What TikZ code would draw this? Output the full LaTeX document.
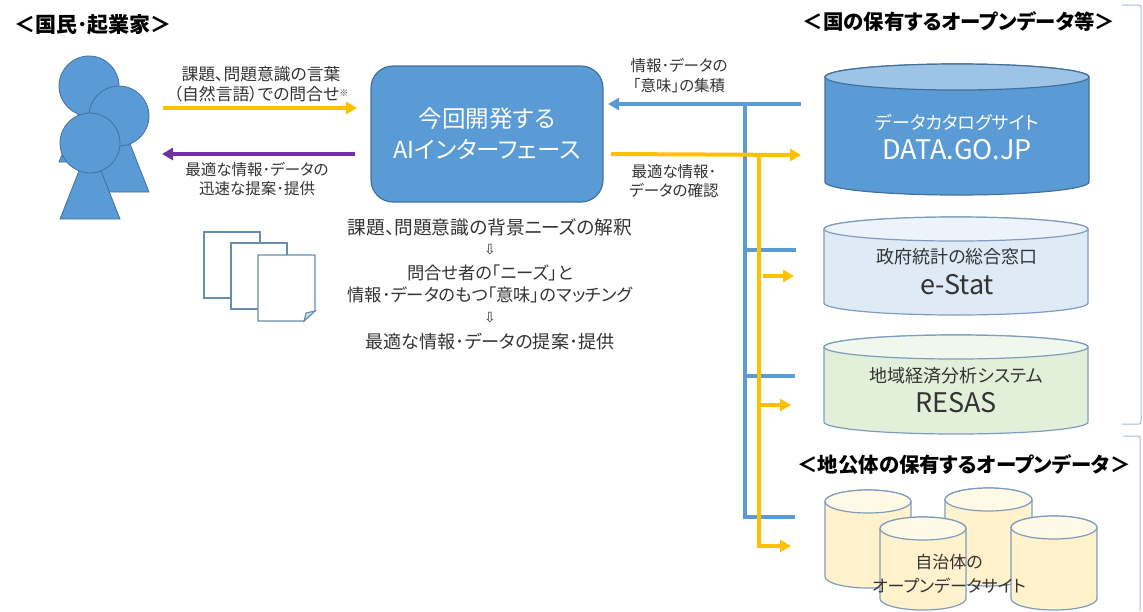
\documentclass[tikz,border=0pt]{standalone}
\usepackage{fontspec}
\setmainfont[RawFeature={+palt}]{Noto Sans CJK JP}
\newfontfamily\symfont{DejaVu Sans}
\usetikzlibrary{arrows.meta}
\definecolor{mainblue}{HTML}{5B9BD5}
\definecolor{edgeblue}{HTML}{41719C}
\definecolor{paleedge}{HTML}{7E9DBE}
\definecolor{yellowline}{HTML}{FFC000}
\definecolor{purpleline}{HTML}{7030A0}
\definecolor{graytext}{HTML}{333333}
\definecolor{statbody}{HTML}{DEEAF6}
\definecolor{stattop}{HTML}{EDF3FA}
\definecolor{resasbody}{HTML}{E2F0D9}
\definecolor{resastop}{HTML}{F0F7EC}
\definecolor{citybody}{HTML}{FFF2CC}
\definecolor{citytop}{HTML}{FFF9E6}
\definecolor{catalogtop}{HTML}{9DC3E6}
% left, top, width, height, end depth, edge, body, top colour
\newcommand{\dbshape}[8]{
    \filldraw[draw=#6, fill=#7, line width=1.2pt] (#1,#2+#5) -- (#1,#2+#4-#5)
        arc[start angle=180, end angle=0, x radius=#3/2, y radius=#5]
        -- (#1+#3,#2+#5) arc[start angle=0, end angle=-180, x radius=#3/2, y radius=#5] -- cycle;
    \filldraw[draw=#6, fill=#8, line width=1.2pt] (#1+#3/2,#2+#5) ellipse [x radius=#3/2, y radius=#5];
}
\begin{document}
\begin{tikzpicture}[x=1pt,y=-1pt,
    person/.style = {draw=edgeblue, fill=mainblue, line width=0.8pt},
    head/.style = {person, circle, minimum size=60pt, inner sep=0pt},
    paper/.style = {draw=edgeblue!80, fill=white, line width=1.1pt},
    heading/.style = {font=\fontsize{20.4}{23}\selectfont\bfseries},
    note/.style = {text=graytext, align=center, font=\fontsize{15.5}{19.5}\selectfont},
    midtext/.style = {text=graytext, font=\fontsize{17.8}{22}\selectfont},
    dbtitle/.style = {text=graytext, font=\fontsize{18}{22}\selectfont},
    dbname/.style = {text=graytext, font=\fontsize{27}{30}\selectfont},
    yellowarrow/.style = {yellowline, line width=4pt, -{Triangle[length=11pt,width=12pt]}},
    blueline/.style = {mainblue, line width=4pt},
    bracket/.style = {draw=paleedge!70, line width=1pt, rounded corners=2pt}]
    \useasboundingbox (0,0) rectangle (1143,611);

    % people
    \draw[person] (59,162) -- (89,87) -- (119,162) -- cycle;
    \node[head] (head1) at (89,86) {};
    \draw[person] (89,192) -- (119,116) -- (149,192) -- cycle;
    \node[head] (head2) at (119,116) {};
    \draw[person] (60,219) -- (90,143) -- (120,219) -- cycle;
    \node[head] (head3) at (90,143) {};
    \node[heading, font=\fontsize{21}{23}\selectfont\bfseries] (citizen) at (93,25) {＜国民･起業家＞};

    % papers
    \node[paper, minimum width=56pt, minimum height=66pt, inner sep=0pt] (paper1) at (232,265) {};
    \node[paper, minimum width=56pt, minimum height=66pt, inner sep=0pt] (paper2) at (259,276) {};
    \draw[paper] (258,255) -- (315,255) -- (315,311) -- (304,321) -- (258,321) -- cycle;
    \draw[paper, fill=edgeblue!25] (315,311) -- (306,313) -- (304,321) -- cycle;

    % centre box
    \node[draw=edgeblue, fill=mainblue, line width=1.2pt, rounded corners=22pt, minimum width=232pt, minimum height=136pt, align=center, text=white, font=\fontsize{23.5}{31}\selectfont] (ai) at (487,134) {今回開発する\\AIインターフェース};

    % left arrows
    \coordinate (askstart) at (163,108);
    \coordinate (askend) at (357,108);
    \coordinate (answerstart) at (355,154);
    \coordinate (answerend) at (162,154);
    \draw[yellowarrow] (askstart) -- (askend);
    \draw[purpleline, line width=4pt, -{Triangle[length=11pt,width=12pt]}] (answerstart) -- (answerend);
    \node[note, font=\fontsize{16.8}{19.5}\selectfont] (asktext) at (261,84) {課題、問題意識の言葉\\（自然言語）での問合せ\raisebox{4pt}{\fontsize{9}{9}\selectfont ※}};
    \node[note] (answertext) at (257,179) {最適な情報･データの\\迅速な提案･提供};

    % text below the box
    \node[midtext, font=\fontsize{18.7}{22}\selectfont] (step1) at (490,227) {課題、問題意識の背景ニーズの解釈};
    \node[text=graytext, font=\symfont\fontsize{14}{16}\selectfont] (down1) at (490,250) {⇩};
    \node[midtext, align=center, font=\fontsize{17.3}{22}\selectfont] (step2) at (490,284) {問合せ者の「ニーズ」と\\情報･データのもつ「意味」のマッチング};
    \node[text=graytext, font=\symfont\fontsize{14}{16}\selectfont] (down2) at (490,318) {⇩};
    \node[midtext, font=\fontsize{18.1}{22}\selectfont] (step3) at (490,342) {最適な情報･データの提案･提供};

    % national data
    \node[heading] (national) at (959,22) {＜国の保有するオープンデータ等＞};
    \dbshape{825}{64}{264}{131}{13}{edgeblue}{mainblue}{catalogtop}
    \node[text=white, font=\fontsize{18}{22}\selectfont] (catalogtitle) at (957,122) {データカタログサイト};
    \node[text=white, font=\fontsize{27}{30}\selectfont] (catalogname) at (957,150) {DATA.GO.JP};
    \dbshape{824}{217}{264}{98}{12}{paleedge}{statbody}{stattop}
    \node[dbtitle] (estattitle) at (957,257) {政府統計の総合窓口};
    \node[dbname] (estatname) at (957,285) {e-Stat};
    \dbshape{824}{335}{264}{99}{12}{paleedge}{resasbody}{resastop}
    \node[dbtitle] (resastitle) at (956,376) {地域経済分析システム};
    \node[dbname] (resasname) at (956,403) {RESAS};

    % local data
    \node[heading] (local) at (964,465) {＜地公体の保有するオープンデータ＞};
    \dbshape{825}{490}{86}{98}{11.5}{paleedge}{citybody}{citytop}
    \dbshape{945}{488}{87}{98}{11.5}{paleedge}{citybody}{citytop}
    \dbshape{880}{517}{86}{93}{11.5}{paleedge}{citybody}{citytop}
    \dbshape{1011}{516}{86}{94}{11.5}{paleedge}{citybody}{citytop}
    \node[text=graytext, align=center, font=\fontsize{17}{24}\selectfont] (citytext) at (949,574) {自治体の\\オープンデータサイト};

    % blue lines
    \coordinate (bluestart) at (801,104);
    \coordinate (blueend) at (608,104);
    \coordinate (bluetop) at (745,104);
    \coordinate (bluebottom) at (745,517);
    \coordinate (bluecity) at (795,517);
    \coordinate (bluestat) at (796,250);
    \coordinate (blueresas) at (795,376);
    \draw[blueline, -{Triangle[length=11pt,width=12pt]}] (bluestart) -- (blueend);
    \draw[blueline] (bluetop) -- (bluebottom) -- (bluecity);
    \draw[blueline] (745,250) -- (bluestat);
    \draw[blueline] (745,376) -- (blueresas);

    % yellow lines
    \coordinate (checkstart) at (611,154);
    \coordinate (checkend) at (801,155);
    \coordinate (yellowtop) at (759,155);
    \coordinate (yellowbottom) at (759,546);
    \coordinate (yellowcity) at (791,546);
    \draw[yellowarrow] (checkstart) -- (checkend);
    \draw[yellowarrow] (yellowtop) -- (yellowbottom) -- (yellowcity);
    \draw[yellowarrow, line width=3.5pt] (763,276) -- (794,276);
    \draw[yellowarrow, line width=3.5pt] (759,405) -- (791,405);
    \node[note] (meaningtext) at (679,75.5) {情報･データの\\「意味」の集積};
    \node[note] (checktext) at (674,181) {最適な情報･\\データの確認};

    % brackets
    \coordinate (bracketa) at (1122,5);
    \coordinate (bracketb) at (1141,5);
    \coordinate (bracketc) at (1141,424);
    \coordinate (bracketd) at (1122,424);
    \coordinate (brackete) at (1123,436);
    \coordinate (bracketf) at (1140,436);
    \coordinate (bracketg) at (1140,611);
    \draw[bracket] (bracketa) -- (bracketb) -- (bracketc) -- (bracketd);
    \draw[bracket] (brackete) -- (bracketf) -- (bracketg);
\end{tikzpicture}
\end{document}
